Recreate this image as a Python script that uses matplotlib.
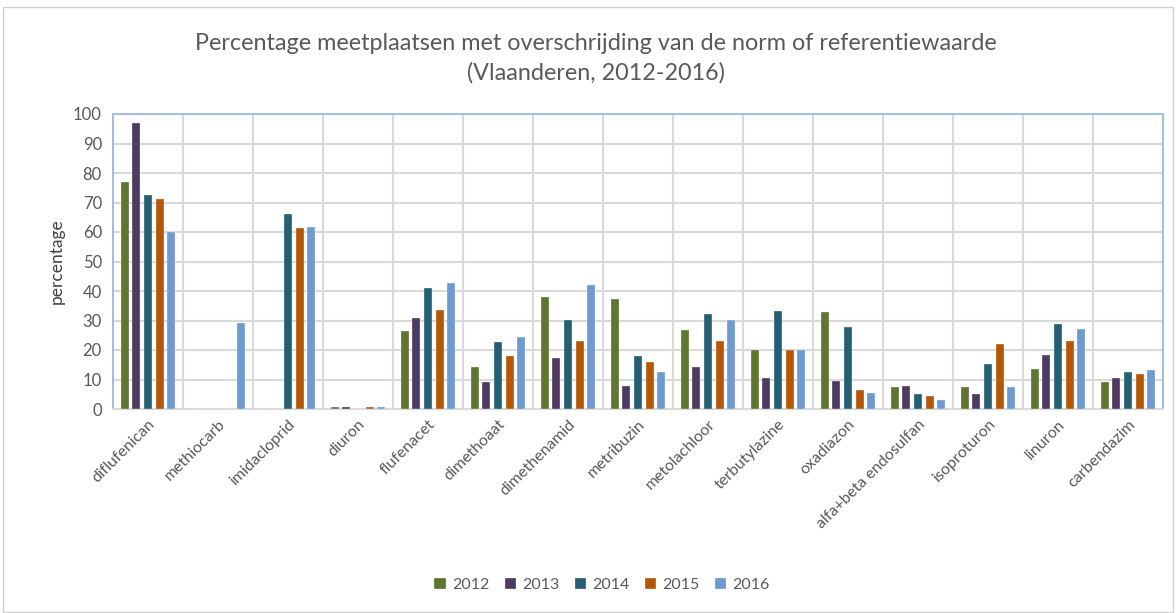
import matplotlib
matplotlib.use("Agg")
import matplotlib.pyplot as plt
import numpy as np
from matplotlib.patches import Rectangle

categories = ["diflufenican", "methiocarb", "imidacloprid", "diuron", "flufenacet",
              "dimethoaat", "dimethenamid", "metribuzin", "metolachloor", "terbutylazine",
              "oxadiazon", "alfa+beta endosulfan", "isoproturon", "linuron", "carbendazim"]
years = ["2012", "2013", "2014", "2015", "2016"]
v2012 = [77.1, 0, 0, 0.8, 26.6, 14.2, 37.9, 37.2, 26.8, 20.1, 33.0, 7.3, 7.6, 13.5, 9.3]
v2013 = [96.9, 0, 0, 0.8, 31.0, 9.1, 17.3, 7.7, 14.2, 10.4, 9.6, 7.7, 5.1, 18.4, 10.4]
v2014 = [72.6, 0, 66.0, 0, 41.0, 22.6, 30.3, 18.0, 32.3, 33.3, 27.7, 5.1, 15.3, 28.8, 12.5]
v2015 = [71.2, 0, 61.2, 0.8, 33.4, 18.0, 23.0, 16.0, 23.0, 20.1, 6.5, 4.4, 22.1, 22.9, 11.8]
v2016 = [60.0, 29.3, 61.6, 0.8, 42.7, 24.3, 42.1, 12.5, 30.2, 20.1, 5.4, 2.9, 7.3, 27.1, 13.2]
series = [v2012, v2013, v2014, v2015, v2016]
colors = ["#5f7530", "#4d3b62", "#245f73", "#b65708", "#6f9ad0"]

plt.rcParams['font.family'] = ['Lato', 'DejaVu Sans']
txt = "#595959"

fig = plt.figure(figsize=(11.76, 6.13), dpi=100)
ax = fig.add_axes([113/1176, 1-409/613, 1050/1176, 295/613])

x = np.arange(len(categories))
pitch = 0.167
width = 0.115
for i, (vals, c, y) in enumerate(zip(series, colors, years)):
    ax.bar(x + (i - 2) * pitch, vals, width=width, color=c, label=y,
           edgecolor="#f4f4f4", linewidth=0.25, zorder=3)

ax.set_xlim(-0.5, len(categories) - 0.5)
ax.set_ylim(0, 100)
ax.set_yticks(np.arange(0, 101, 10))
ax.set_xticks(x)
ax.set_xticks(np.arange(-0.5, len(categories), 1), minor=True)
ax.set_xticklabels(categories, rotation=45, ha="right", rotation_mode="anchor",
                   fontsize=11.5, color=txt)
ax.tick_params(axis="y", labelsize=12, labelcolor=txt, length=0, pad=8)
ax.tick_params(axis="x", which="both", length=0, pad=6)
ax.grid(axis="y", color="#d9d9d9", linewidth=1.5, zorder=0)
ax.grid(axis="x", which="minor", color="#d9d9d9", linewidth=1.5, zorder=0)
ax.grid(axis="x", which="major", visible=False)
for s in ["top", "left", "right"]:
    ax.spines[s].set_color("#a5bedf")
    ax.spines[s].set_linewidth(1.5)
ax.spines["bottom"].set_color("#d9d9d9")
ax.spines["bottom"].set_linewidth(1.5)
ax.set_ylabel("percentage", fontsize=12.5, color="#404040", labelpad=6)

fig.text(596/1176, 1-43/613, "Percentage meetplaatsen met overschrijding van de norm of referentiewaarde",
         ha="center", va="center", fontsize=16.8, color=txt)
fig.text(596/1176, 1-73/613, "(Vlaanderen, 2012-2016)",
         ha="center", va="center", fontsize=16.8, color=txt)

leg = fig.legend(loc="center", bbox_to_anchor=(602/1176, 1-585/613), ncol=5, frameon=False,
                 fontsize=11.5, handlelength=0.7, handleheight=0.7, columnspacing=0.95,
                 handletextpad=0.4)
for t in leg.get_texts():
    t.set_color(txt)

fig.patches.append(Rectangle((3/1176, 0.002), 1-6/1176, 1-8/613, transform=fig.transFigure,
                             fill=False, edgecolor="#d0d0d0", linewidth=1))

fig.savefig("out.png", dpi=100)
